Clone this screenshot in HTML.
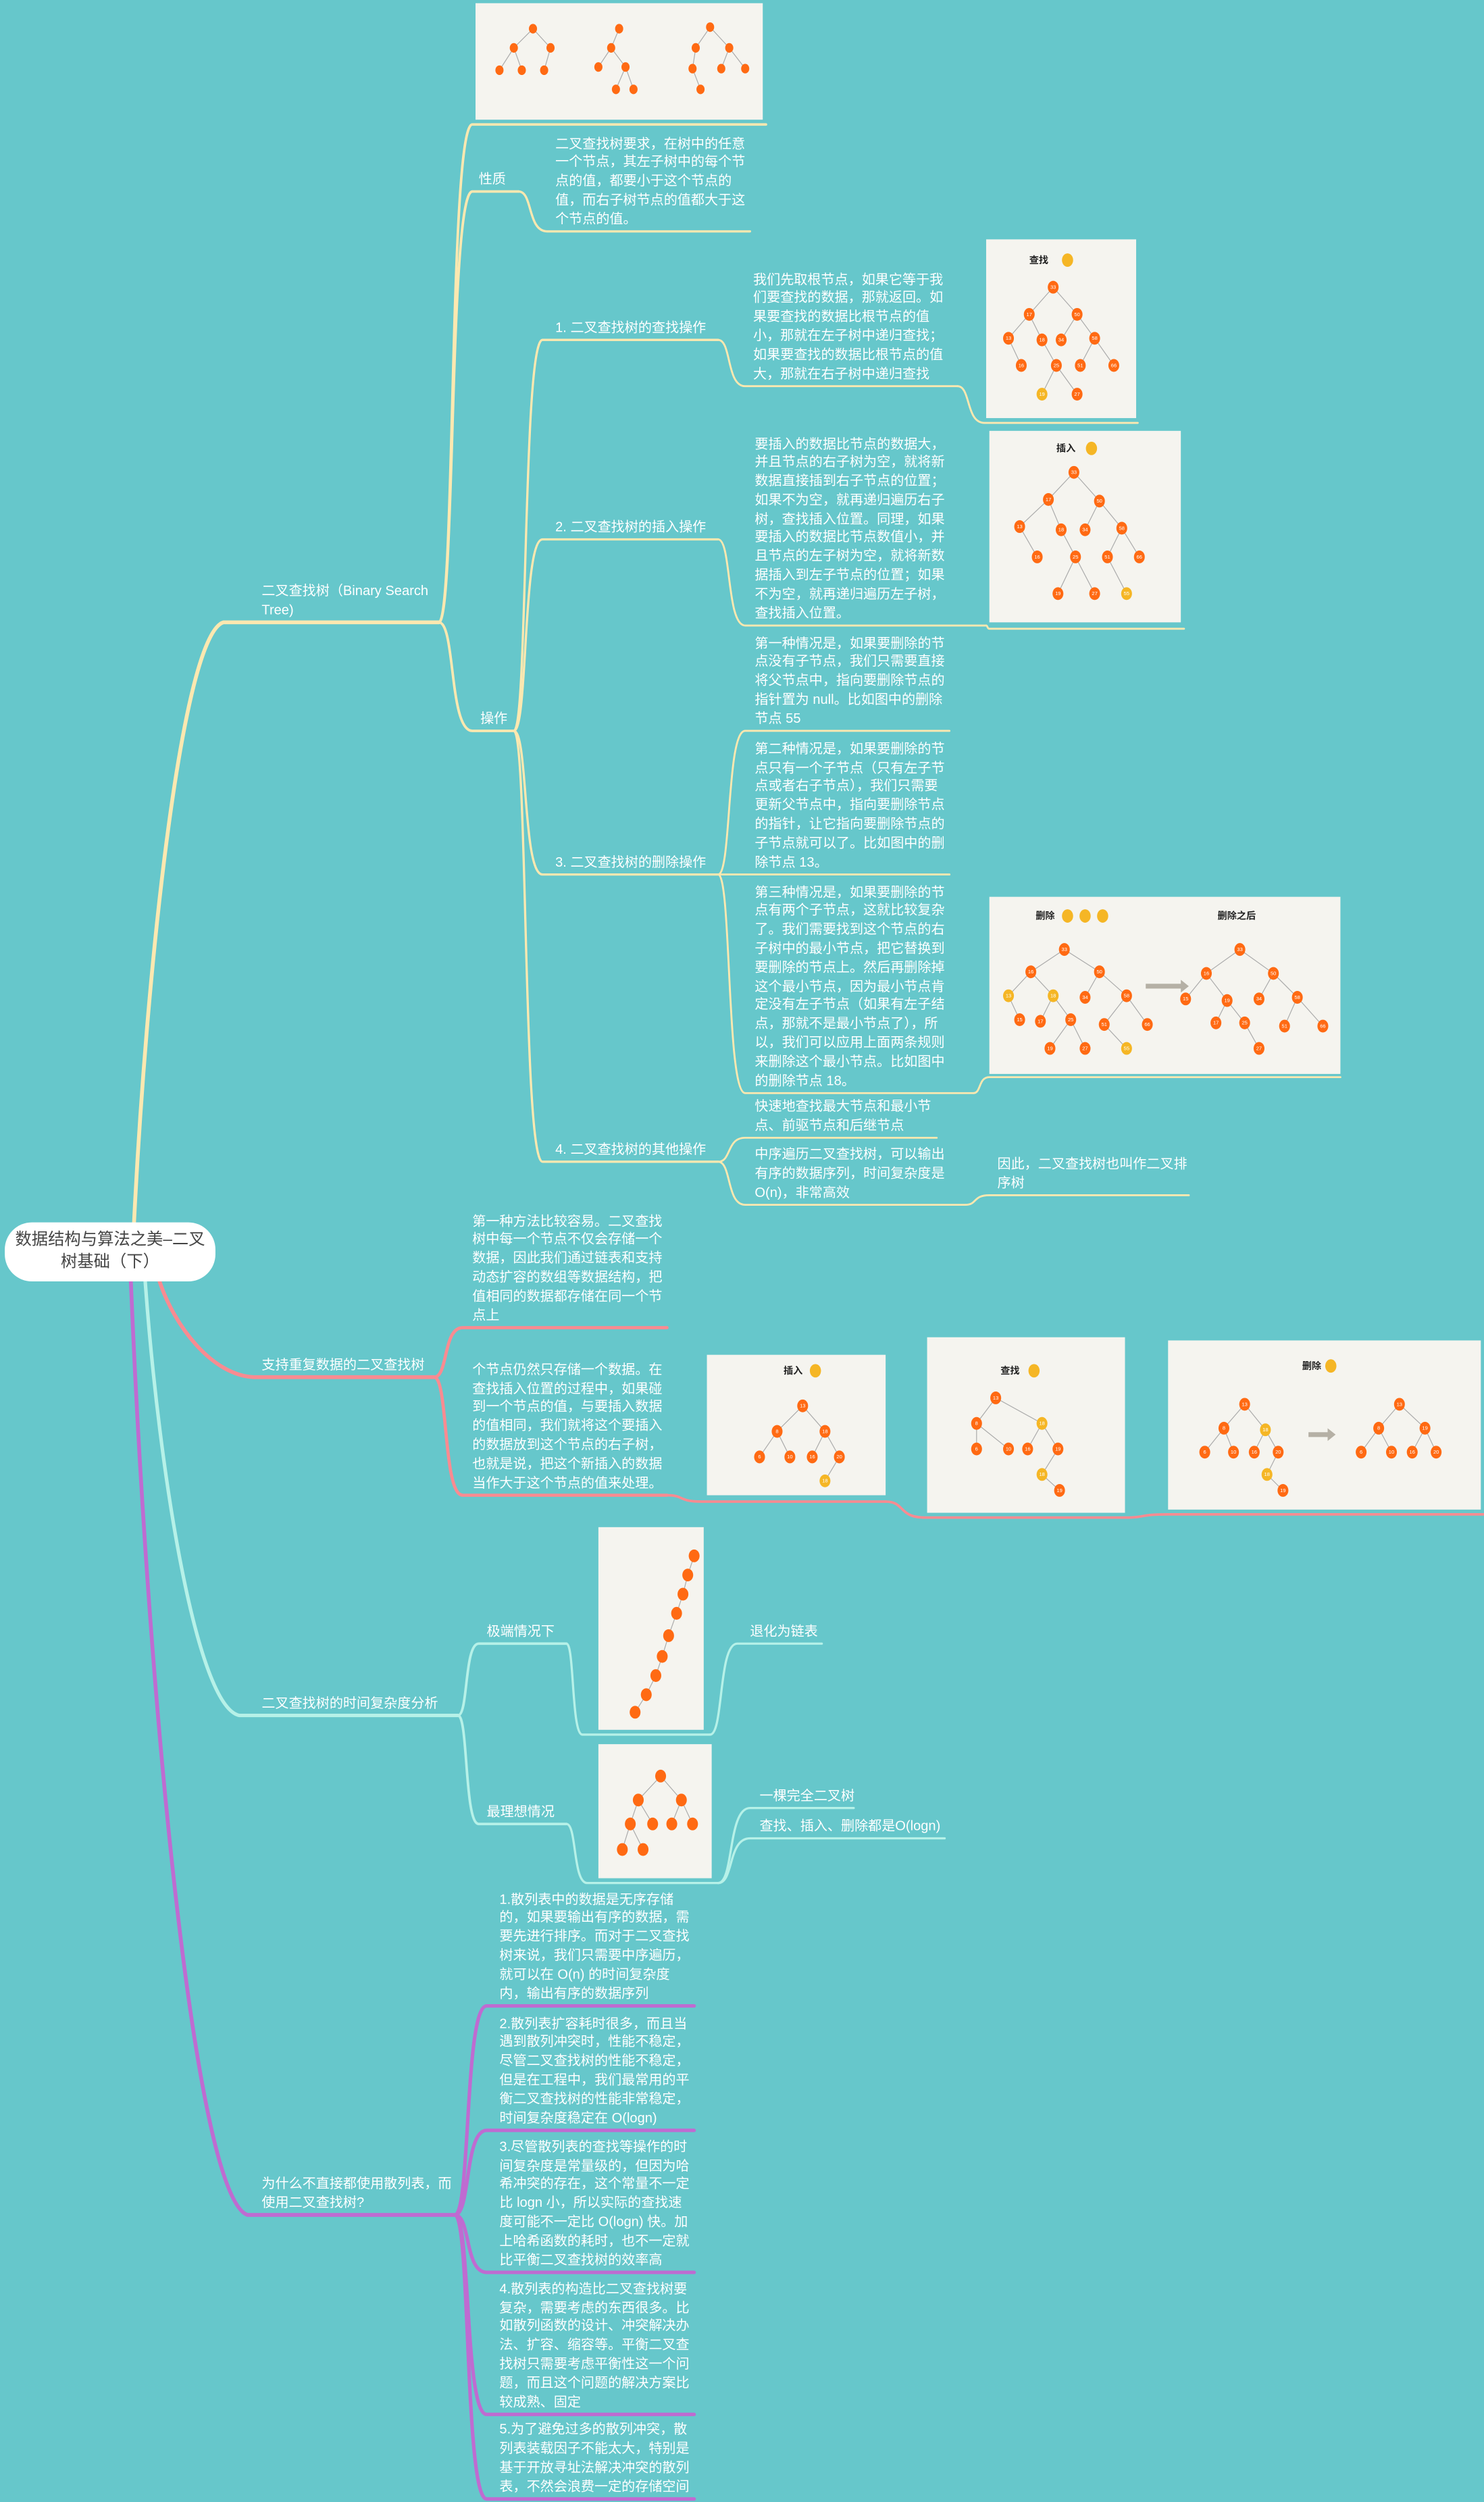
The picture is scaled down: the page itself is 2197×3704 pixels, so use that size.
<!DOCTYPE html>
<html><head><meta charset="utf-8">
<style>
html,body{margin:0;padding:0;background:#66c7cb;}
#page{position:relative;width:2197px;height:3704px;overflow:hidden;background:#66c7cb;}
#map{position:absolute;left:0;top:0;width:930px;height:1568px;transform:scale(2.3624);transform-origin:0 0;}
.t{position:absolute;color:#fff;font-family:"Liberation Sans","Noto Sans CJK SC",sans-serif;font-size:8.5px;line-height:11.8px;white-space:nowrap;}
.img{position:absolute;background:#f5f4ef;}
#center{position:absolute;left:3px;top:766px;width:132px;height:37px;background:#fff;border-radius:17px;color:#444;font-family:"Liberation Sans","Noto Sans CJK SC",sans-serif;font-size:10.3px;line-height:13.5px;text-align:center;display:flex;align-items:center;justify-content:center;}
svg{position:absolute;left:0;top:0;}
</style></head><body>
<div id="page">
<div id="map">
<svg id="lines" width="930" height="1568"></svg>

<div class="img" style="left:298px;top:2px;width:180px;height:73px"></div>
<div class="img" style="left:618px;top:150px;width:94px;height:112px"></div>
<div class="img" style="left:620px;top:270px;width:120px;height:120px"></div>
<div class="img" style="left:620px;top:562px;width:220px;height:111px"></div>
<div class="img" style="left:443px;top:849px;width:112px;height:88px"></div>
<div class="img" style="left:581px;top:838px;width:124px;height:110px"></div>
<div class="img" style="left:732px;top:840px;width:196px;height:106px"></div>
<div class="img" style="left:375px;top:957px;width:66px;height:127px"></div>
<div class="img" style="left:375px;top:1093px;width:71px;height:84px"></div>

<svg id="trees" width="930" height="1568"></svg>

<div id="center"><div>数据结构与算法之美–二叉<br>树基础（下）</div></div>

<div class="t" style="left:164px;top:364.9px">二叉查找树（Binary Search<br>Tree)</div>
<div class="t" style="left:300px;top:106.7px">性质</div>
<div class="t" style="left:348px;top:84.5px">二叉查找树要求，在树中的任意<br>一个节点，其左子树中的每个节<br>点的值，都要小于这个节点的<br>值，而右子树节点的值都大于这<br>个节点的值。</div>
<div class="t" style="left:301px;top:444.7px">操作</div>
<div class="t" style="left:348px;top:199.7px">1. 二叉查找树的查找操作</div>
<div class="t" style="left:472px;top:169.7px">我们先取根节点，如果它等于我<br>们要查找的数据，那就返回。如<br>果要查找的数据比根节点的值<br>小，那就在左子树中递归查找；<br>如果要查找的数据比根节点的值<br>大，那就在右子树中递归查找</div>
<div class="t" style="left:348px;top:324.7px">2. 二叉查找树的插入操作</div>
<div class="t" style="left:473px;top:272.5px">要插入的数据比节点的数据大，<br>并且节点的右子树为空，就将新<br>数据直接插到右子节点的位置；<br>如果不为空，就再递归遍历右子<br>树，查找插入位置。同理，如果<br>要插入的数据比节点数值小，并<br>且节点的左子树为空，就将新数<br>据插入到左子节点的位置；如果<br>不为空，就再递归遍历左子树，<br>查找插入位置。</div>
<div class="t" style="left:348px;top:534.7px">3. 二叉查找树的删除操作</div>
<div class="t" style="left:473px;top:397.5px">第一种情况是，如果要删除的节<br>点没有子节点，我们只需要直接<br>将父节点中，指向要删除节点的<br>指针置为 null。比如图中的删除<br>节点 55</div>
<div class="t" style="left:473px;top:463.9px">第二种情况是，如果要删除的节<br>点只有一个子节点（只有左子节<br>点或者右子节点），我们只需要<br>更新父节点中，指向要删除节点<br>的指针，让它指向要删除节点的<br>子节点就可以了。比如图中的删<br>除节点 13。</div>
<div class="t" style="left:473px;top:553.7px">第三种情况是，如果要删除的节<br>点有两个子节点，这就比较复杂<br>了。我们需要找到这个节点的右<br>子树中的最小节点，把它替换到<br>要删除的节点上。然后再删除掉<br>这个最小节点，因为最小节点肯<br>定没有左子节点（如果有左子结<br>点，那就不是最小节点了），所<br>以，我们可以应用上面两条规则<br>来删除这个最小节点。比如图中<br>的删除节点 18。</div>
<div class="t" style="left:348px;top:714.7px">4. 二叉查找树的其他操作</div>
<div class="t" style="left:473px;top:687.9px">快速地查找最大节点和最小节<br>点、前驱节点和后继节点</div>
<div class="t" style="left:473px;top:718.1px">中序遍历二叉查找树，可以输出<br>有序的数据序列，时间复杂度是<br>O(n)，非常高效</div>
<div class="t" style="left:625px;top:723.9px">因此，二叉查找树也叫作二叉排<br>序树</div>

<div class="t" style="left:164px;top:849.7px">支持重复数据的二叉查找树</div>
<div class="t" style="left:296px;top:759.7px">第一种方法比较容易。二叉查找<br>树中每一个节点不仅会存储一个<br>数据，因此我们通过链表和支持<br>动态扩容的数组等数据结构，把<br>值相同的数据都存储在同一个节<br>点上</div>
<div class="t" style="left:296px;top:852.9px">个节点仍然只存储一个数据。在<br>查找插入位置的过程中，如果碰<br>到一个节点的值，与要插入数据<br>的值相同，我们就将这个要插入<br>的数据放到这个节点的右子树，<br>也就是说，把这个新插入的数据<br>当作大于这个节点的值来处理。</div>

<div class="t" style="left:164px;top:1061.7px">二叉查找树的时间复杂度分析</div>
<div class="t" style="left:305px;top:1016.7px">极端情况下</div>
<div class="t" style="left:470px;top:1016.7px">退化为链表</div>
<div class="t" style="left:305px;top:1129.7px">最理想情况</div>
<div class="t" style="left:476px;top:1119.7px">一棵完全二叉树</div>
<div class="t" style="left:476px;top:1138.7px">查找、插入、删除都是O(logn)</div>

<div class="t" style="left:164px;top:1362.9px">为什么不直接都使用散列表，而<br>使用二叉查找树?</div>
<div class="t" style="left:313px;top:1184.7px">1.散列表中的数据是无序存储<br>的，如果要输出有序的数据，需<br>要先进行排序。而对于二叉查找<br>树来说，我们只需要中序遍历，<br>就可以在 O(n) 的时间复杂度<br>内，输出有序的数据序列</div>
<div class="t" style="left:313px;top:1262.7px">2.散列表扩容耗时很多，而且当<br>遇到散列冲突时，性能不稳定，<br>尽管二叉查找树的性能不稳定，<br>但是在工程中，我们最常用的平<br>衡二叉查找树的性能非常稳定，<br>时间复杂度稳定在 O(logn)</div>
<div class="t" style="left:313px;top:1339.9px">3.尽管散列表的查找等操作的时<br>间复杂度是常量级的，但因为哈<br>希冲突的存在，这个常量不一定<br>比 logn 小，所以实际的查找速<br>度可能不一定比 O(logn) 快。加<br>上哈希函数的耗时，也不一定就<br>比平衡二叉查找树的效率高</div>
<div class="t" style="left:313px;top:1428.9px">4.散列表的构造比二叉查找树要<br>复杂，需要考虑的东西很多。比<br>如散列函数的设计、冲突解决办<br>法、扩容、缩容等。平衡二叉查<br>找树只需要考虑平衡性这一个问<br>题，而且这个问题的解决方案比<br>较成熟、固定</div>
<div class="t" style="left:313px;top:1517.3px">5.为了避免过多的散列冲突，散<br>列表装载因子不能太大，特别是<br>基于开放寻址法解决冲突的散列<br>表，不然会浪费一定的存储空间</div>
</div>
</div>
<script>
var NS='http://www.w3.org/2000/svg';
var Y='#fce8b0',P='#f98b91',C='#b6f1e8',U='#bf6bd1';
// [x1,y1,x2,y2,x3,color,width,isTrunk]
var links=[
[84,766,140,390,275,Y,2.4,1],
[275,390,296,78,480,Y,1.6],
[275,390,296,120,325,Y,1.6],
[325,120,343,145,470,Y,1.4],
[275,390,296,458,322,Y,1.6],
[322,458,340,213,450,Y,1.4],
[450,213,467,242,600,Y,1.2],
[600,242,617,265,713,Y,1.2],
[322,458,340,338,450,Y,1.4],
[450,338,467,392,618,Y,1.2],
[618,392,620,394,742,Y,1.2],
[322,458,340,548,450,Y,1.4],
[450,548,467,458,595,Y,1.2],
[450,548,467,548,595,Y,1.2],
[450,548,467,685,610,Y,1.2],
[610,685,620,675,840,Y,1.2],
[322,458,340,728,450,Y,1.4],
[450,728,467,713,587,Y,1.2],
[450,728,467,755,605,Y,1.2],
[605,755,620,749,745,Y,1.2],
[100,803,159,863,272,P,2.4,1],
[272,863,290,832,418,P,2],
[272,863,290,937,418,P,2],
[418,937,440,941,555,P,1.6],
[555,941,580,951,705,P,1.6],
[705,951,732,949,930,P,1.6],
[91,803,150,1075,287,C,2.2,1],
[287,1075,300,1030,355,C,1.6],
[355,1030,365,1087,445,C,1.4],
[445,1087,462,1030,515,C,1.4],
[287,1075,300,1143,355,C,1.6],
[355,1143,368,1180,450,C,1.4],
[450,1180,470,1133,535,C,1.4],
[450,1180,470,1152,592,C,1.4],
[82,803,155,1388,285,U,2.4,1],
[285,1388,305,1257,435,U,2.2],
[285,1388,305,1335,435,U,2.2],
[285,1388,305,1424,435,U,2.2],
[285,1388,305,1513,435,U,2.2],
[285,1388,305,1566,435,U,2.2]
];
var svg=document.getElementById('lines');
links.forEach(function(l){
  var x1=l[0],y1=l[1],x2=l[2],y2=l[3],x3=l[4],d;
  if(l[7]){
    d='M'+x1+' '+y1+' C'+(x1+(x2-x1)*0.15)+' '+(y1+(y2-y1)*0.45)+' '+(x2-(x2-x1)*0.45)+' '+(y2+(y1-y2)*0.02)+' '+x2+' '+y2+' L'+x3+' '+y2;
  } else {
    var mx=(x1+x2)/2;
    d='M'+x1+' '+y1+' C'+mx+' '+y1+' '+(x1+(x2-x1)*0.3)+' '+y2+' '+x2+' '+y2+' L'+x3+' '+y2;
  }
  var p=document.createElementNS(NS,'path');
  p.setAttribute('d',d);
  p.setAttribute('fill','none');p.setAttribute('stroke',l[5]);p.setAttribute('stroke-width',l[6]);p.setAttribute('stroke-linecap','round');
  
  
  svg.appendChild(p);
});
var O='#ff6a13',G='#f5b625';
var trees=[
[[334,18,'',-1],[322,30,'',0],[345,30,'',0],[313,44,'',1],[327,44,'',1],[341,44,'',2]],
[[388,18,'',-1],[383,30,'',0],[375,42,'',1],[392,42,'',1],[386,56,'',3],[397,56,'',3]],
[[445,17,'',-1],[436,30,'',0],[457,30,'',0],[434,43,'',1],[452,43,'',2],[467,43,'',2],[439,56,'',3]],
[[660,180,'33',-1],[645,197,'17',0],[675,197,'50',0],[632,212,'13',1],[653,213,'18',1],[665,213,'34',2],[686,212,'58',2],[640,229,'16',3],[662,229,'25',4],[677,229,'51',6],[698,229,'66',6],[653,247,'19',8,1],[675,247,'27',8]],
[[673,296,'33',-1],[657,313,'17',0],[689,314,'50',0],[639,330,'13',1],[665,332,'18',1],[680,332,'34',2],[703,331,'58',2],[650,349,'16',3],[674,349,'25',4],[694,349,'51',6],[714,349,'66',6],[663,372,'19',8],[686,372,'27',8],[706,372,'55',9,1]],
[[667,595,'33',-1],[646,609,'16',0],[689,609,'50',0],[632,624,'13',1,1],[660,624,'18',1,1],[680,625,'34',2],[706,624,'58',2],[639,639,'15',3],[652,640,'17',4],[671,639,'25',4],[692,642,'51',6],[719,642,'66',6],[658,657,'19',9],[680,657,'27',9],[706,657,'55',10,1]],
[[777,595,'33',-1],[756,610,'16',0],[798,610,'50',0],[743,626,'15',1],[769,627,'19',1],[789,626,'34',2],[813,625,'58',2],[762,641,'17',4],[780,641,'25',4],[805,643,'51',6],[829,643,'66',6],[789,657,'27',8]],
[[503,881,'13',-1],[487,897,'8',0],[517,897,'18',0],[476,913,'6',1],[495,913,'10',1],[509,913,'16',2],[526,913,'20',2],[517,928,'18',6,1]],
[[624,876,'13',-1],[612,892,'8',0],[653,892,'18',0,1],[612,908,'6',1],[632,908,'10',1],[644,908,'16',2],[663,908,'19',2],[653,924,'18',6,1],[664,934,'19',7]],
[[780,880,'13',-1],[767,895,'8',0],[793,896,'18',0,1],[755,910,'6',1],[773,910,'10',1],[786,910,'16',2],[801,910,'20',2],[794,924,'18',6,1],[804,934,'19',7]],
[[877,880,'13',-1],[864,895,'8',0],[893,895,'19',0],[853,910,'6',1],[872,910,'10',1],[885,910,'16',2],[900,910,'20',2]],
[[435,975,'',-1],[431,987,'',0],[428,999,'',1],[424,1011,'',2],[419,1025,'',3],[415,1038,'',4],[411,1050,'',5],[405,1062,'',6],[398,1073,'',7]],
[[414,1113,'',-1],[400,1128,'',0],[427,1128,'',0],[395,1143,'',1],[409,1143,'',1],[421,1143,'',2],[434,1143,'',2],[390,1159,'',3],[403,1159,'',3]]
];
var ts=document.getElementById('trees');
trees.forEach(function(t,ti){
  var r=ti<3?3:4;
  t.forEach(function(n){
    if(n[3]>=0){var pp=t[n[3]];var ln=document.createElementNS(NS,'line');
      ln.setAttribute('x1',pp[0]);ln.setAttribute('y1',pp[1]);ln.setAttribute('x2',n[0]);ln.setAttribute('y2',n[1]);
      ln.setAttribute('stroke','#aaa');ln.setAttribute('stroke-width','0.5');
      
      
      ts.appendChild(ln);}
  });
  t.forEach(function(n){
    var c=document.createElementNS(NS,'ellipse');
    c.setAttribute('cx',n[0]);c.setAttribute('cy',n[1]);c.setAttribute('rx',r*0.85);c.setAttribute('ry',r);
    c.setAttribute('fill',n[4]?G:O);
    
    
    ts.appendChild(c);
    if(n[2]){var tx=document.createElementNS(NS,'text');tx.setAttribute('x',n[0]);tx.setAttribute('y',n[1]+1);
      tx.setAttribute('font-size','3.2');tx.setAttribute('fill','#fff');tx.setAttribute('text-anchor','middle');
      tx.setAttribute('font-family','Liberation Sans, sans-serif');tx.textContent=n[2];
      
      
      ts.appendChild(tx);}
  });
});
var titles=[[651,165,'查找',[669]],[668,283,'插入',[684]],[655,576,'删除',[669,680,691]],[775,576,'删除之后',[]],[497,861,'插入',[511]],[633,861,'查找',[648]],[822,858,'删除',[834]]];
titles.forEach(function(tt){
  var tx=document.createElementNS(NS,'text');tx.setAttribute('x',tt[0]);tx.setAttribute('y',tt[1]);
  tx.setAttribute('font-size','6');tx.setAttribute('font-weight','bold');tx.setAttribute('fill','#222');tx.setAttribute('text-anchor','middle');
  tx.setAttribute('font-family','Liberation Sans, Noto Sans CJK SC, sans-serif');tx.textContent=tt[2];
  
  
  ts.appendChild(tx);
  tt[3].forEach(function(x){var c=document.createElementNS(NS,'ellipse');c.setAttribute('cx',x);c.setAttribute('cy',tt[1]-2);c.setAttribute('rx',3.5);c.setAttribute('ry',4.2);c.setAttribute('fill',G);
    
    
    ts.appendChild(c);});
});
[[718,618,745],[820,899,837]].forEach(function(a){
  var p=document.createElementNS(NS,'path');
  p.setAttribute('d','M'+a[0]+' '+(a[1]-1.5)+' L'+(a[2]-5)+' '+(a[1]-1.5)+' L'+(a[2]-5)+' '+(a[1]-4)+' L'+a[2]+' '+a[1]+' L'+(a[2]-5)+' '+(a[1]+4)+' L'+(a[2]-5)+' '+(a[1]+1.5)+' L'+a[0]+' '+(a[1]+1.5)+' Z');
  p.setAttribute('fill','#b5b0a5');
  
  
  ts.appendChild(p);
});
</script>
</body></html>
